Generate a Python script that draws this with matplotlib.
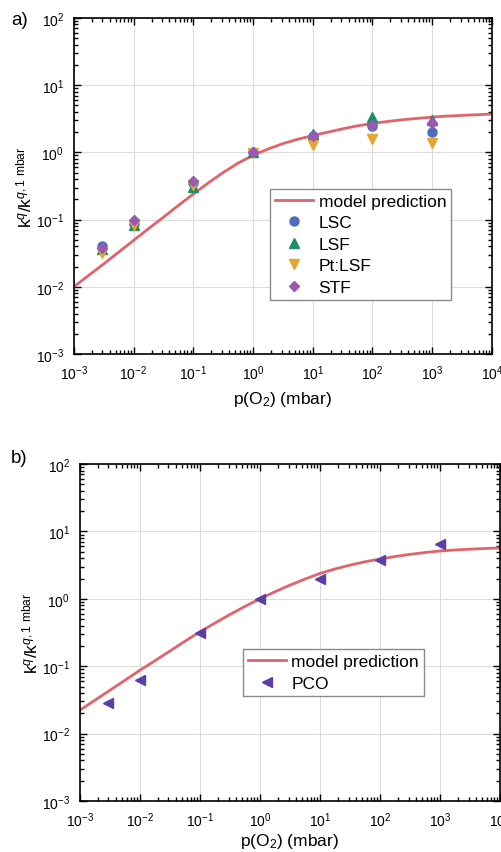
import numpy as np
import matplotlib
matplotlib.use("Agg")
import matplotlib.pyplot as plt
from matplotlib.ticker import LogLocator, NullFormatter

plt.rcParams["font.family"] = ["Liberation Sans", "DejaVu Sans"]
plt.rcParams["mathtext.fontset"] = "custom"
plt.rcParams["mathtext.rm"] = "Liberation Sans"
plt.rcParams["mathtext.it"] = "Liberation Sans:italic"
plt.rcParams["mathtext.bf"] = "Liberation Sans:bold"

# measurement pressures (mbar)
p_meas = [3e-3, 1e-2, 1e-1, 1e0, 1e1, 1e2, 1e3]

# panel a) normalised rate constants
lsc = [0.041, 0.085, 0.35, 1.0, 1.75, 2.5, 1.98]
lsf = [0.037, 0.082, 0.31, 1.0, 1.88, 3.4, 3.0]
ptlsf = [0.032, 0.082, 0.33, 0.97, 1.27, 1.56, 1.39]
stf = [0.038, 0.10, 0.37, 1.0, 1.73, 2.52, 2.73]

# panel b)
pco = [0.0285, 0.062, 0.31, 1.0, 1.96, 3.83, 6.6]

# model curves, every quarter decade (log10 values)
p_model_exp = [-3.0, -2.75, -2.5, -2.25, -2.0, -1.75, -1.5, -1.25, -1.0,
               -0.75, -0.5, -0.25, 0.0, 0.25, 0.5, 0.75, 1.0, 1.25, 1.5,
               1.75, 2.0, 2.25, 2.5, 2.75, 3.0, 3.25, 3.5, 3.75, 4.0]
model_a_log = [-2.0, -1.83, -1.66, -1.485, -1.31, -1.135, -0.965, -0.79, -0.62,
               -0.455, -0.30, -0.16, -0.045, 0.05, 0.13, 0.195, 0.25, 0.30, 0.35,
               0.395, 0.43, 0.46, 0.485, 0.505, 0.525, 0.54, 0.55, 0.56, 0.57]
model_b_log = [-1.654, -1.505, -1.358, -1.21, -1.06, -0.92, -0.775, -0.63, -0.49,
               -0.36, -0.233, -0.113, 0.0, 0.105, 0.203, 0.293, 0.376, 0.443, 0.50,
               0.55, 0.59, 0.628, 0.66, 0.687, 0.71, 0.725, 0.737, 0.747, 0.755]

RED = "#e0646a"
C_LSC = "#4f6dbf"
C_LSF = "#1b8f6a"
C_PT = "#e3a72f"
C_STF = "#9b59b2"
C_PCO = "#5a3fa6"


def style_axes(ax, xlabelpad=5):
    ax.set_xscale("log")
    ax.set_yscale("log")
    ax.set_xlim(1e-3, 1e4)
    ax.set_ylim(1e-3, 1e2)
    ax.xaxis.set_major_locator(LogLocator(base=10, numticks=20))
    ax.yaxis.set_major_locator(LogLocator(base=10, numticks=20))
    ax.xaxis.set_minor_locator(LogLocator(base=10, subs=np.arange(2, 10), numticks=20))
    ax.yaxis.set_minor_locator(LogLocator(base=10, subs=np.arange(2, 10), numticks=20))
    ax.xaxis.set_minor_formatter(NullFormatter())
    ax.yaxis.set_minor_formatter(NullFormatter())
    ax.tick_params(which="both", direction="in", top=True, right=True,
                   labelsize=10, width=1.0, color="black")
    ax.tick_params(which="major", length=5, pad=7)
    ax.tick_params(which="minor", length=2.8)
    ax.grid(True, which="major", color="#dcdcdc", linewidth=0.8)
    ax.set_axisbelow(True)
    for s in ax.spines.values():
        s.set_linewidth(1.2)
    ax.set_xlabel("p(O$_2$) (mbar)", fontsize=12.5, labelpad=xlabelpad)
    ax.set_ylabel("k$^{q}$/k$^{q,1\\ \\mathrm{mbar}}$", fontsize=12.5, labelpad=1)


def legend_box(ax, anchor):
    leg = ax.legend(loc="lower left", bbox_to_anchor=anchor, fontsize=12.5,
                    frameon=True, fancybox=False, edgecolor="#8a8a8a", framealpha=1,
                    handlelength=2.2, handletextpad=0.3, borderpad=0.3,
                    labelspacing=0.36, borderaxespad=0)
    leg.get_frame().set_linewidth(1.0)
    return leg


fig = plt.figure(figsize=(5.02, 8.53), dpi=100)
ax1 = fig.add_axes([0.147, 0.5838, 0.833, 0.394])
ax2 = fig.add_axes([0.159, 0.0598, 0.837, 0.395])

p_model = 10 ** np.array(p_model_exp)

# panel a
style_axes(ax1)
ax1.plot(p_model, 10 ** np.array(model_a_log), color=RED, lw=2, label="model prediction")
ax1.plot(p_meas, lsc, "o", color=C_LSC, ms=6.5, ls="none", label="LSC")
ax1.plot(p_meas, lsf, "^", color=C_LSF, ms=6.5, ls="none", label="LSF")
ax1.plot(p_meas, ptlsf, "v", color=C_PT, ms=6.5, ls="none", label="Pt:LSF")
ax1.plot(p_meas, stf, "D", color=C_STF, ms=5.5, ls="none", label="STF")
legend_box(ax1, (0.469, 0.161))
fig.text(0.022, 0.986, "a)", fontsize=13.5, va="top")

# panel b
style_axes(ax2, xlabelpad=1.5)
ax2.plot(p_model, 10 ** np.array(model_b_log), color=RED, lw=2, label="model prediction")
ax2.plot(p_meas, pco, "<", color=C_PCO, ms=6.5, ls="none", label="PCO")
legend_box(ax2, (0.388, 0.312))
fig.text(0.022, 0.473, "b)", fontsize=13.5, va="top")

fig.savefig("out.png", dpi=100)
